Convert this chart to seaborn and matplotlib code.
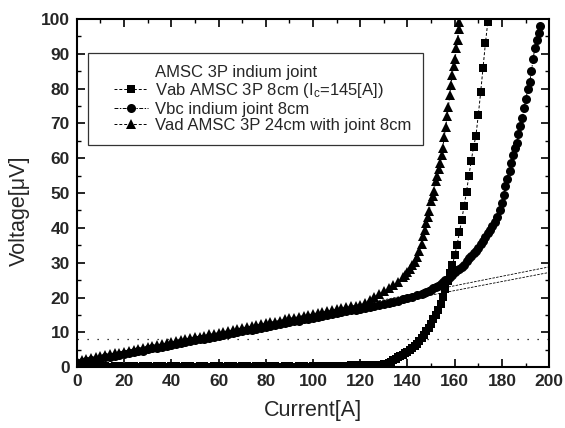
import numpy as np
import pandas as pd
import matplotlib
matplotlib.use('Agg')
import matplotlib.pyplot as plt
from matplotlib.lines import Line2D
from matplotlib.legend_handler import HandlerLine2D
import seaborn as sns

# Vab AMSC 3P 8cm (squares)
cur_ab = [0, 2, 4, 6, 8, 10, 12, 14, 16, 18, 20, 22, 24, 26, 28, 30, 32, 34, 36, 38,
          40, 42, 44, 46, 48, 50, 52, 54, 56, 58, 60, 62, 64, 66, 68, 70, 72, 74, 76, 78,
          80, 82, 84, 86, 88, 90, 92, 94, 96, 98, 100, 102, 104, 106, 108, 110, 112, 114,
          116, 118, 120, 122, 124, 126, 128,
          130, 131, 132, 133, 134, 135, 136, 137, 138, 139, 140, 141, 142, 143, 144, 145,
          146, 147, 148, 149, 150, 151, 152, 153, 154, 155, 156, 157, 158, 159, 160, 161,
          162, 163, 164, 165, 166, 167, 168, 169, 170, 171, 172, 173, 174]
v_ab = [0.3, 0.2, 0.3, 0.3, 0.2, 0.3, 0.3, 0.2, 0.3, 0.3, 0.2, 0.3, 0.3, 0.2, 0.3, 0.3, 0.2, 0.3, 0.3, 0.2,
        0.3, 0.3, 0.2, 0.3, 0.3, 0.2, 0.3, 0.3, 0.2, 0.3, 0.3, 0.2, 0.3, 0.3, 0.2, 0.3, 0.3, 0.2, 0.3, 0.3,
        0.2, 0.3, 0.3, 0.2, 0.3, 0.3, 0.2, 0.3, 0.3, 0.2, 0.3, 0.3, 0.3, 0.3, 0.4, 0.4, 0.4, 0.4,
        0.5, 0.5, 0.5, 0.5, 0.6, 0.6, 0.7,
        0.8, 1.0, 1.3, 1.6, 2.0, 2.4, 2.8, 3.2, 3.6, 4.0, 4.5, 5.0, 5.5, 6.0, 6.8, 7.6,
        8.3, 9.3, 10.3, 11.3, 12.5, 13.7, 15.0, 16.5, 18.2, 20.2, 22.5, 24.8, 27.0, 29.2, 32.1, 35.2,
        38.7, 42.4, 46.4, 50.4, 55.0, 59.3, 63.3, 66.5, 72.5, 79.0, 86.0, 93.0, 99.0]

# Vbc indium joint 8cm (circles)
cur_bc = [0, 2, 4, 6, 8, 10, 12, 14, 16, 18, 20, 22, 24, 26, 28, 30, 32, 34, 36, 38,
          40, 42, 44, 46, 48, 50, 52, 54, 56, 58, 60, 62, 64, 66, 68, 70, 72, 74, 76, 78,
          80, 82, 84, 86, 88, 90, 92, 94, 96, 98, 100, 102, 104, 106, 108, 110, 112, 114,
          116, 118, 120, 122, 124, 126, 128, 130, 132, 134,
          136, 138, 140, 142, 144, 146, 147, 148, 149, 150, 151, 152, 153, 154, 155, 156,
          157, 158, 159, 160, 161, 162, 163, 164, 165, 166, 167, 168, 169, 170, 171, 172,
          173, 174, 175, 176, 177, 178, 179, 180, 180.7, 181.5, 182.3, 183.2, 184.0, 184.8,
          185.5, 186.3, 187.0, 187.8, 188.6, 189.4, 190.1, 191.0, 191.8, 192.5, 193.2,
          193.9, 194.7, 195.5, 196.2]
v_bc = [1.2, 1.5, 1.7, 2.0, 2.2, 2.5, 2.8, 3.0, 3.3, 3.5, 3.8, 4.1, 4.3, 4.6, 4.8, 5.1, 5.4, 5.6, 5.9, 6.1,
        6.4, 6.7, 6.9, 7.2, 7.4, 7.7, 8.0, 8.2, 8.5, 8.7, 9.0, 9.3, 9.5, 9.8, 10.0, 10.3, 10.6, 10.8, 11.1, 11.3,
        11.6, 11.9, 12.1, 12.4, 12.6, 12.9, 13.2, 13.4, 13.7, 13.9, 14.2, 14.5, 14.7, 15.0, 15.2, 15.5, 15.8, 16.0,
        16.3, 16.5, 16.8, 17.1, 17.3, 17.6, 17.8, 18.1, 18.3, 18.7,
        19.0, 19.5, 19.9, 20.3, 20.7, 21.0, 21.3, 21.6, 21.9, 22.2, 22.6, 23.0, 23.4, 23.9, 24.4, 24.9,
        25.4, 25.9, 26.5, 27.2, 27.8, 28.3, 28.8, 29.4, 30.4, 31.3, 32.0, 32.7, 33.4, 34.3, 35.3, 36.3,
        37.3, 38.4, 39.4, 40.5, 41.7, 43.2, 45.0, 47.2, 49.5, 52.0, 54.0, 56.3, 58.5, 60.8,
        62.8, 64.5, 67.0, 69.2, 71.5, 74.5, 77.0, 79.8, 82.0, 85.0, 88.5,
        91.5, 94.0, 96.0, 97.8]

# Vad AMSC 3P 24cm with joint 8cm (triangles)
cur_ad = [0, 2, 4, 6, 8, 10, 12, 14, 16, 18, 20, 22, 24, 26, 28, 30, 32, 34, 36, 38,
          40, 42, 44, 46, 48, 50, 52, 54, 56, 58, 60, 62, 64, 66, 68, 70, 72, 74, 76, 78,
          80, 82, 84, 86, 88, 90, 92, 94, 96, 98, 100, 102, 104, 106, 108, 110, 112, 114,
          116, 118, 120,
          122, 124, 126, 128, 130, 132, 134, 136, 138, 139, 140, 141, 142, 143, 144, 145,
          146, 146.7, 147.4, 148, 148.6, 149.2, 150, 150.6, 151.2, 152, 152.6, 153.2, 153.9,
          154.5, 155, 155.5, 156.2, 156.8, 157.3, 157.9, 158.4, 159.0, 159.5, 160.2, 160.7,
          161.2, 161.7, 162.0]
v_ad = [1.8, 2.1, 2.3, 2.6, 2.9, 3.2, 3.4, 3.7, 4.0, 4.2, 4.5, 4.8, 5.0, 5.3, 5.6, 5.9, 6.1, 6.4, 6.7, 6.9,
        7.2, 7.5, 7.7, 8.0, 8.3, 8.6, 8.8, 9.1, 9.4, 9.6, 9.9, 10.2, 10.4, 10.7, 11.0, 11.3, 11.5, 11.8, 12.1, 12.3,
        12.6, 12.9, 13.1, 13.4, 13.7, 14.0, 14.2, 14.5, 14.8, 15.0, 15.3, 15.6, 15.8, 16.1, 16.4, 16.7, 16.9, 17.2,
        17.5, 17.7, 18.0,
        18.5, 19.3, 20.2, 21.0, 21.8, 22.6, 23.5, 24.5, 25.8, 26.5, 27.3, 28.2, 29.2, 30.3, 31.6, 33.5,
        35.5, 37.8, 39.5, 41.3, 43.0, 44.8, 47.8, 49.2, 50.7, 53.5, 55.0, 57.0, 58.5,
        61.0, 63.0, 66.0, 69.0, 72.0, 74.6, 78.0, 81.0, 84.0, 86.5, 88.5, 91.5,
        94.0, 97.0, 99.0]

# linear fits and 1 uV/cm criterion
fit_x = [0, 200]
fit_bc = [1.2, 27.2]
fit_ad = [1.8, 28.8]
crit_x = [0, 200]
crit_v = [8, 8]


class ShiftedHandler(HandlerLine2D):
    # draw the legend sample in the right part of its slot
    def create_artists(self, legend, orig_handle, xdescent, ydescent,
                       width, height, fontsize, trans):
        shift = width * 0.3
        return super().create_artists(legend, orig_handle, xdescent - shift,
                                      ydescent, width - shift, height,
                                      fontsize, trans)


sns.set_theme(style='ticks')
plt.rcParams['font.family'] = ['Liberation Sans', 'DejaVu Sans']
plt.rcParams['mathtext.default'] = 'regular'

fig = plt.figure(figsize=(5.65, 4.28), dpi=100)
ax = fig.add_axes([0.136, 0.142, 0.836, 0.814])

line_kw = dict(color='black', linewidth=0.7, markeredgewidth=0,
               estimator=None, ax=ax)
sns.lineplot(x=cur_ab, y=v_ab, marker='s', markersize=6, linestyle=(0, (3, 2)),
             label='Vab AMSC 3P 8cm (I$_c$=145[A])', **line_kw)
sns.lineplot(x=cur_bc, y=v_bc, marker='o', markersize=6.5, linestyle=(0, (4, 1.5, 1.5, 1.5)),
             label='Vbc indium joint 8cm', **line_kw)
sns.lineplot(x=cur_ad, y=v_ad, marker='^', markersize=7, linestyle=(0, (3, 2)),
             label='Vad AMSC 3P 24cm with joint 8cm', **line_kw)

sns.lineplot(x=fit_x, y=fit_bc, color='black', linewidth=0.6,
             linestyle=(0, (3, 1.5)), ax=ax, legend=False)
sns.lineplot(x=fit_x, y=fit_ad, color='black', linewidth=0.6,
             linestyle=(0, (3, 1.5)), ax=ax, legend=False)
sns.lineplot(x=crit_x, y=crit_v, color='black', linewidth=0.9,
             linestyle=(0, (1, 7)), ax=ax, legend=False)

ax.set_xlim(0, 200)
ax.set_ylim(0, 100)
ax.set_xticks(range(0, 201, 20))
ax.set_yticks(range(0, 101, 10))
ax.set_xticks(range(0, 201, 10), minor=True)
ax.set_yticks(range(0, 101, 5), minor=True)
ax.tick_params(which='both', direction='in', top=True, right=True, color='black')
ax.tick_params(which='major', length=6, width=1.2, labelsize=12.5, pad=5)
ax.tick_params(which='minor', length=3, width=1.0)
for lab in ax.get_xticklabels() + ax.get_yticklabels():
    lab.set_fontweight('bold')
for sp in ax.spines.values():
    sp.set_linewidth(1.5)
    sp.set_color('black')

ax.set_xlabel('Current[A]', fontsize=15.5, labelpad=8)
ax.set_ylabel('Voltage[\u03bcV]', fontsize=15.5)
ax.yaxis.set_label_coords(-0.1, 0.45)

# legend with the group name as a first, handle-less row
handles, labels = ax.get_legend_handles_labels()
blank = Line2D([], [], linestyle='none', marker=None)
leg = ax.legend([blank] + handles, ['AMSC 3P indium joint'] + labels,
                loc='upper left', bbox_to_anchor=(0.023, 0.902), borderaxespad=0,
                fontsize=12, frameon=True, fancybox=False,
                edgecolor='black', handlelength=2.9, handletextpad=0.4,
                labelspacing=0.08, borderpad=0.72,
                handler_map={Line2D: ShiftedHandler()})
leg.get_frame().set_linewidth(0.9)

fig.savefig('out.png', dpi=100, facecolor='white')
